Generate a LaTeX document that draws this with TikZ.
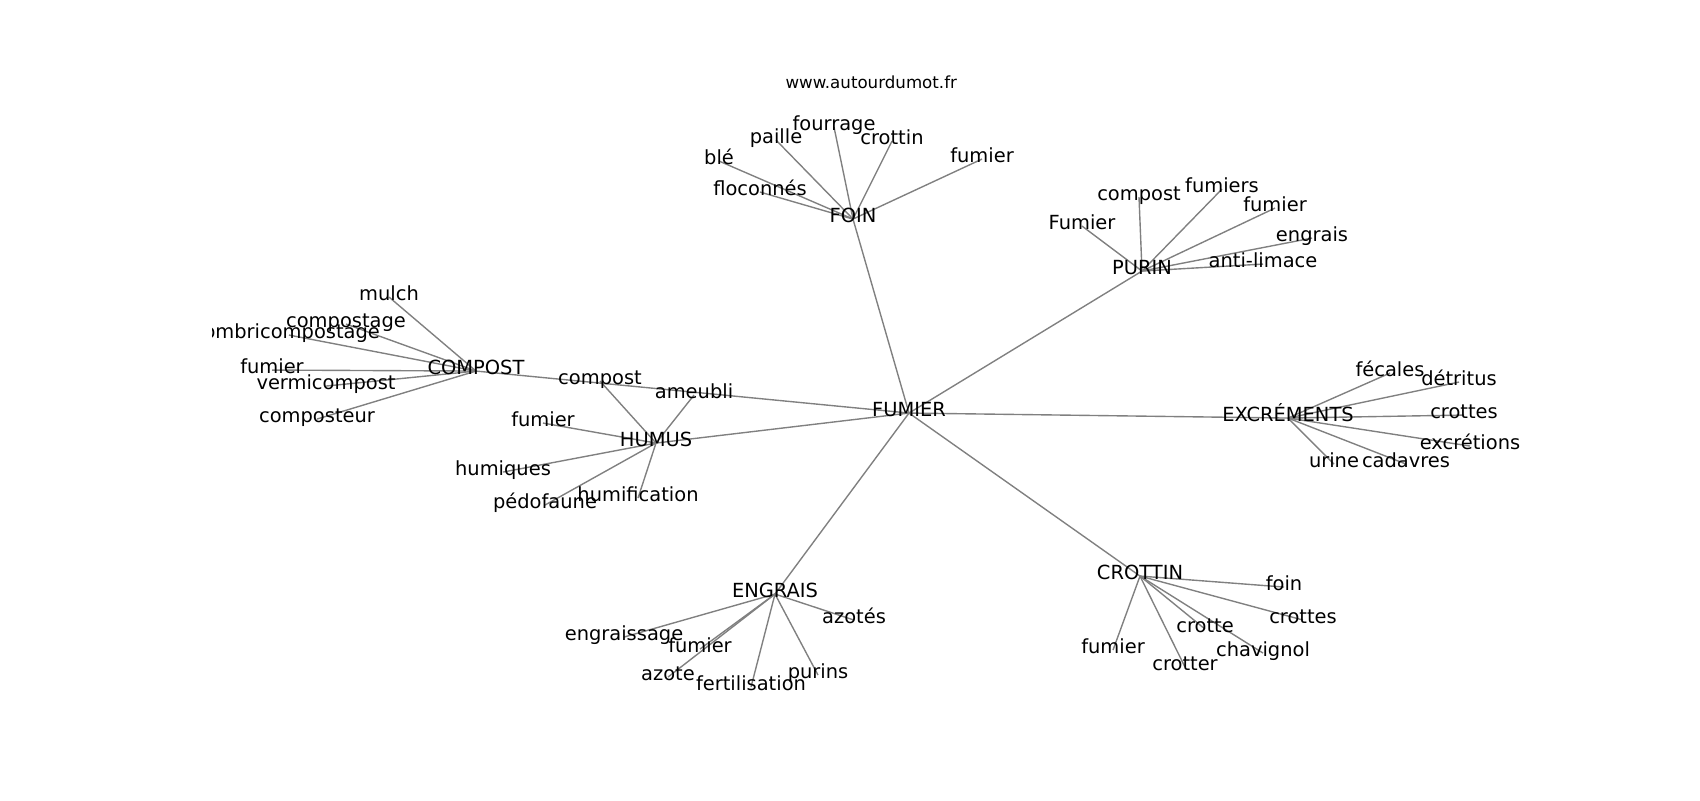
\documentclass[tikz,border=0pt]{standalone}
\usepackage{fontspec}
\setmainfont{DejaVu Sans}
\begin{document}
\begin{tikzpicture}[x=0.72pt,y=-0.72pt,
  edge/.style={draw=gray,line width=1pt},
  lbl/.style={inner sep=0pt,anchor=center,text height=0.76em,text depth=0.208em,font=\fontsize{14}{16}\selectfont},
  ttl/.style={inner sep=0pt,anchor=base,font=\fontsize{12}{14}\selectfont}]
\useasboundingbox (0,0) rectangle (1700,800);
\begin{scope}[yshift=-2.2pt]
% node positions
\coordinate (fumier) at (909,410);
\coordinate (foin) at (853,216);
\coordinate (purin) at (1142,268);
\coordinate (compost) at (476,368);
\coordinate (humus) at (656,440);
\coordinate (exc) at (1288,415);
\coordinate (engrais) at (775,591);
\coordinate (crottin) at (1140,573);
% FOIN
\coordinate (f1) at (719,158);
\coordinate (f2) at (776,137);
\coordinate (f3) at (834,124);
\coordinate (f4) at (892,138);
\coordinate (f5) at (982,156);
\coordinate (f6) at (760,189);
% PURIN
\coordinate (p1) at (1082,223);
\coordinate (p2) at (1139,194);
\coordinate (p3) at (1222,186);
\coordinate (p4) at (1275,205);
\coordinate (p5) at (1312,235);
\coordinate (p6) at (1263,261);
% COMPOST
\coordinate (c1) at (389,294);
\coordinate (c2) at (346,321);
\coordinate (c3) at (289,332);
\coordinate (c4) at (272,367);
\coordinate (c5) at (326,383);
\coordinate (c6) at (317,416);
% HUMUS
\coordinate (h1) at (600,378);
\coordinate (h2) at (694,392);
\coordinate (h3) at (543,420);
\coordinate (h4) at (503,469);
\coordinate (h5) at (545,502);
\coordinate (h6) at (638,495);
% EXCREMENTS
\coordinate (e1) at (1390,370);
\coordinate (e2) at (1459,379);
\coordinate (e3) at (1464,412);
\coordinate (e4) at (1470,443);
\coordinate (e5) at (1334,461);
\coordinate (e6) at (1406,461);
% ENGRAIS
\coordinate (g1) at (624,634);
\coordinate (g2) at (700,646);
\coordinate (g3) at (854,617);
\coordinate (g4) at (668,674);
\coordinate (g5) at (751,684);
\coordinate (g6) at (818,672);
% CROTTIN
\coordinate (r1) at (1284,584);
\coordinate (r2) at (1303,617);
\coordinate (r3) at (1205,626);
\coordinate (r4) at (1263,650);
\coordinate (r5) at (1185,664);
\coordinate (r6) at (1113,647);
% edges
\foreach \a in {foin,purin,compost,humus,exc,engrais,crottin} \draw[edge] (fumier) -- (\a);
\foreach \a in {f1,f2,f3,f4,f5,f6} \draw[edge] (foin) -- (\a);
\foreach \a in {p1,p2,p3,p4,p5,p6} \draw[edge] (purin) -- (\a);
\foreach \a in {c1,c2,c3,c4,c5,c6} \draw[edge] (compost) -- (\a);
\foreach \a in {h1,h2,h3,h4,h5,h6} \draw[edge] (humus) -- (\a);
\foreach \a in {e1,e2,e3,e4,e5,e6} \draw[edge] (exc) -- (\a);
\foreach \a in {g1,g2,g3,g4,g5,g6} \draw[edge] (engrais) -- (\a);
\foreach \a in {r1,r2,r3,r4,r5,r6} \draw[edge] (crottin) -- (\a);
% labels
\begin{scope}
\clip (212.5,93) rectangle (1530,709);
\node[lbl] (tfumier) at (fumier) {FUMIER};
\node[lbl] (tfoin) at (foin) {FOIN};
\node[lbl] (tpurin) at (purin) {PURIN};
\node[lbl] (tcompost) at (compost) {COMPOST};
\node[lbl] (thumus) at (humus) {HUMUS};
\node[lbl] (texc) at (exc) {EXCRÉMENTS};
\node[lbl] (tengrais) at (engrais) {ENGRAIS};
\node[lbl] (tcrottin) at (crottin) {CROTTIN};
\node[lbl] (tf1) at (f1) {blé};
\node[lbl] (tf2) at (f2) {paille};
\node[lbl] (tf3) at (f3) {fourrage};
\node[lbl] (tf4) at (f4) {crottin};
\node[lbl] (tf5) at (f5) {fumier};
\node[lbl] (tf6) at (f6) {floconnés};
\node[lbl] (tp1) at (p1) {Fumier};
\node[lbl] (tp2) at (p2) {compost};
\node[lbl] (tp3) at (p3) {fumiers};
\node[lbl] (tp4) at (p4) {fumier};
\node[lbl] (tp5) at (p5) {engrais};
\node[lbl] (tp6) at (p6) {anti-limace};
\node[lbl] (tc1) at (c1) {mulch};
\node[lbl] (tc2) at (c2) {compostage};
\node[lbl] (tc3) at (c3) {lombricompostage};
\node[lbl] (tc4) at (c4) {fumier};
\node[lbl] (tc5) at (c5) {vermicompost};
\node[lbl] (tc6) at (c6) {composteur};
\node[lbl] (th1) at (h1) {compost};
\node[lbl] (th2) at (h2) {ameubli};
\node[lbl] (th3) at (h3) {fumier};
\node[lbl] (th4) at (h4) {humiques};
\node[lbl] (th5) at (h5) {pédofaune};
\node[lbl] (th6) at (h6) {humification};
\node[lbl] (te1) at (e1) {fécales};
\node[lbl] (te2) at (e2) {détritus};
\node[lbl] (te3) at (e3) {crottes};
\node[lbl] (te4) at (e4) {excrétions};
\node[lbl] (te5) at (e5) {urine};
\node[lbl] (te6) at (e6) {cadavres};
\node[lbl] (tg1) at (g1) {engraissage};
\node[lbl] (tg2) at (g2) {fumier};
\node[lbl] (tg3) at (g3) {azotés};
\node[lbl] (tg4) at (g4) {azote};
\node[lbl] (tg5) at (g5) {fertilisation};
\node[lbl] (tg6) at (g6) {purins};
\node[lbl] (tr1) at (r1) {foin};
\node[lbl] (tr2) at (r2) {crottes};
\node[lbl] (tr3) at (r3) {crotte};
\node[lbl] (tr4) at (r4) {chavignol};
\node[lbl] (tr5) at (r5) {crotter};
\node[lbl] (tr6) at (r6) {fumier};
\end{scope}
\end{scope}
\node[ttl] (title) at (871.25,88.7) {www.autourdumot.fr};
\end{tikzpicture}
\end{document}
